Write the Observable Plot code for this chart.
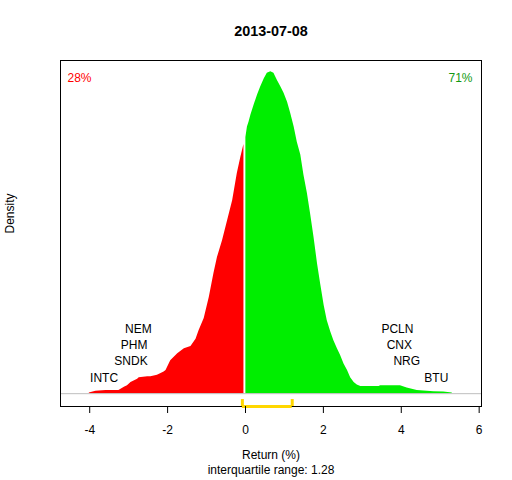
<!DOCTYPE html>
<html>
<head>
<meta charset="utf-8">
<script src="https://cdn.jsdelivr.net/npm/d3@7"></script>
<script src="https://cdn.jsdelivr.net/npm/@observablehq/plot@0.6"></script>
<style>
  body { margin: 0; background: #fff; }
</style>
</head>
<body>
<div id="chart"></div>
<script>
// Density of returns (negative side, red)
const negX = [-4.01,-3.84,-3.58,-3.25,-3.11,-3.03,-2.94,-2.77,-2.73,-2.51,-2.43,-2.26,-2.09,-2.04,-1.92,-1.74,-1.57,-1.40,-1.27,-1.19,-1.06,-0.93,-0.81,-0.72,-0.59,-0.46,-0.33,-0.21,-0.12,-0.04];
const negD = [0.001,0.003,0.004,0.004,0.008,0.010,0.014,0.018,0.020,0.021,0.021,0.023,0.027,0.029,0.041,0.050,0.056,0.059,0.068,0.079,0.094,0.120,0.150,0.170,0.191,0.216,0.241,0.275,0.295,0.311];
// Density of returns (positive side, green)
const posX = [0.01,0.05,0.09,0.14,0.22,0.31,0.39,0.48,0.56,0.65,0.73,0.82,0.91,0.99,1.08,1.16,1.25,1.33,1.42,1.50,1.59,1.67,1.76,1.85,1.93,2.02,2.10,2.19,2.27,2.36,2.44,2.53,2.62,2.70,2.79,2.87,2.96,3.43,3.47,3.98,4.15,4.41,4.84,5.09,5.31];
const posD = [0.320,0.333,0.339,0.348,0.360,0.373,0.383,0.393,0.400,0.402,0.400,0.391,0.383,0.375,0.364,0.350,0.333,0.314,0.298,0.273,0.250,0.225,0.195,0.162,0.137,0.110,0.091,0.077,0.066,0.056,0.048,0.037,0.029,0.020,0.014,0.011,0.009,0.009,0.010,0.010,0.007,0.004,0.0025,0.002,0.001];

// Labelled extreme stocks
const lowNames = ["INTC","SNDK","PHM","NEM"];
const lowX = [-3.63,-2.94,-2.86,-2.75];
const highNames = ["BTU","NRG","CNX","PCLN"];
const highX = [4.90,4.14,3.95,3.90];
const labelY = [0.02,0.04,0.06,0.08];

// Summary
const title = "2013-07-08";
const pctNeg = "28%";
const pctPos = "71%";
const q1 = -0.08, q3 = 1.20;
const iqrText = "interquartile range: 1.28";
const xTicks = [-4,-2,0,2,4,6];

const xDomain = [-4.75, 6.06];
const yDomain = [-0.016, 0.416];

const neg = negX.map((x,i)=>({x, d: negD[i]}));
const pos = posX.map((x,i)=>({x, d: posD[i]}));
const low = lowNames.map((n,i)=>({n, x: lowX[i], y: labelY[i]}));
const high = highNames.map((n,i)=>({n, x: highX[i], y: labelY[i]}));

const font = "Liberation Sans, Arial, sans-serif";
const bracketTop = yDomain[0] + 0.0087;

const chart = Plot.plot({
  width: 512,
  height: 480,
  marginLeft: 60,
  marginRight: 31,
  marginTop: 60,
  marginBottom: 74,
  style: { fontFamily: font, fontSize: "12px", background: "#fff", color: "#000" },
  x: { domain: xDomain },
  y: { domain: yDomain, axis: null },
  marks: [
    Plot.areaY(neg, { x: "x", y: "d", fill: "#FF0000" }),
    Plot.areaY(pos, { x: "x", y: "d", fill: "#00EE00" }),
    Plot.ruleY([0], { stroke: "#BEBEBE", strokeWidth: 1 }),
    Plot.frame({ stroke: "#000", strokeWidth: 1 }),
    Plot.ruleY([yDomain[0]], { x1: q1, x2: q3, stroke: "#FFD700", strokeWidth: 3 }),
    Plot.ruleX([q1, q3], { y1: yDomain[0], y2: bracketTop, stroke: "#FFD700", strokeWidth: 3 }),
    Plot.text(low, { x: "x", y: "y", text: "n", fontSize: 12, fill: "#000" }),
    Plot.text(high, { x: "x", y: "y", text: "n", fontSize: 12, fill: "#000" }),
    Plot.text([pctNeg], { frameAnchor: "top-left", dx: 7, dy: 18, lineAnchor: "middle", fill: "#FF0000", fontSize: 12 }),
    Plot.text([pctPos], { frameAnchor: "top-right", dx: -9, dy: 18, lineAnchor: "middle", fill: "#119911", fontSize: 12 }),
    Plot.text([title], { frameAnchor: "top", dy: -29, lineAnchor: "middle", fontWeight: "bold", fontSize: 14.4, fill: "#000" }),
    Plot.text(["Return (%)"], { frameAnchor: "bottom", dy: 49, lineAnchor: "middle", fontSize: 12, fill: "#000" }),
    Plot.text([iqrText], { frameAnchor: "bottom", dy: 64, lineAnchor: "middle", fontSize: 12, fill: "#000" }),
    Plot.text(["Density"], { frameAnchor: "left", dx: -50, rotate: -90, lineAnchor: "middle", fontSize: 12, fill: "#000" }),
    Plot.axisX({ ticks: xTicks, tickSize: 7, tickPadding: 12, tickFormat: d => String(d), label: null, fontSize: 12, stroke: "#000" })
  ]
});
document.getElementById("chart").appendChild(chart);
</script>
</body>
</html>
